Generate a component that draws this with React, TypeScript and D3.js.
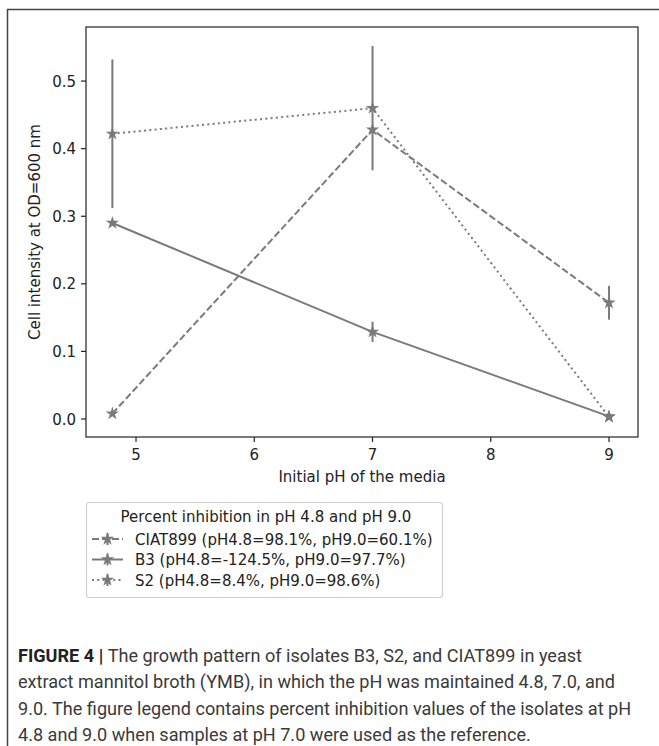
import * as d3 from "d3";

const phValues = [4.8, 7, 9];

const ciat899 = [0.008, 0.428, 0.172];
const ciat899Err = [0.002, 0.004, 0.025];
const b3 = [0.29, 0.129, 0.004];
const b3Err = [0.003, 0.015, 0.003];
const s2 = [0.422, 0.46, 0.003];
const s2Err = [0.11, 0.092, 0.002];

const xTicks = [5, 6, 7, 8, 9];
const yTicks = [0.0, 0.1, 0.2, 0.3, 0.4, 0.5];

const legendTitle = "Percent inhibition in pH 4.8 and pH 9.0";
const seriesLabels = [
  "CIAT899 (pH4.8=98.1%, pH9.0=60.1%)",
  "B3 (pH4.8=-124.5%, pH9.0=97.7%)",
  "S2 (pH4.8=8.4%, pH9.0=98.6%)",
];

const captionLines = [
  "The growth pattern of isolates B3, S2, and CIAT899 in yeast",
  "extract mannitol broth (YMB), in which the pH was maintained 4.8, 7.0, and",
  "9.0. The figure legend contains percent inhibition values of the isolates at pH",
  "4.8 and 9.0 when samples at pH 7.0 were used as the reference.",
];

const grey = "#7a7a7a";
const font = "'DejaVu Sans', sans-serif";
const fs = 15;

// plot box
const left = 86, right = 638, top = 27, bottom = 437;

const x = d3.scaleLinear([4.577, 9.245], [left, right]);
const y = d3.scaleLinear([-0.0266, 0.58], [bottom, top]);

const star = d3.symbol(d3.symbolStar, 55);

const series = [
  { vals: ciat899, errs: ciat899Err, dash: "7,3" },
  { vals: b3, errs: b3Err, dash: "none" },
  { vals: s2, errs: s2Err, dash: "2,3.3" },
];

export default function App() {
  const line = d3.line<number>((d, i) => x(phValues[i]), (d) => y(d));
  return (
    <svg width={659} height={746} style={{ position: "absolute", left: 0, top: 0, background: "#fff" }}>
      {/* outer frame */}
      <path d="M7.5,746 V9.5 H659" fill="none" stroke="#444" strokeWidth={1.5} />

      {series.map((s, k) => (
        <g key={k}>
          <path d={line(s.vals) || ""} fill="none" stroke={grey} strokeWidth={2} strokeDasharray={s.dash} />
          {s.vals.map((v, i) => (
            <line key={"e" + i} x1={x(phValues[i])} x2={x(phValues[i])} y1={y(v - s.errs[i])} y2={y(v + s.errs[i])}
              stroke={grey} strokeWidth={2} />
          ))}
          {s.vals.map((v, i) => (
            <path key={"m" + i} d={star() || ""} transform={`translate(${x(phValues[i])},${y(v)})`} fill={grey} />
          ))}
        </g>
      ))}

      {/* axes */}
      <rect x={left} y={top} width={right - left} height={bottom - top} fill="none" stroke="#222" strokeWidth={1.2} />
      {xTicks.map((t) => (
        <g key={t}>
          <line x1={x(t)} x2={x(t)} y1={bottom} y2={bottom + 5} stroke="#222" strokeWidth={1.2} />
          <text x={x(t)} y={460} textAnchor="middle" fontFamily={font} fontSize={fs} fill="#222">{t}</text>
        </g>
      ))}
      {yTicks.map((t) => (
        <g key={t}>
          <line x1={left - 5} x2={left} y1={y(t)} y2={y(t)} stroke="#222" strokeWidth={1.2} />
          <text x={76} y={y(t) + 5.5} textAnchor="end" fontFamily={font} fontSize={fs} fill="#222">{t.toFixed(1)}</text>
        </g>
      ))}
      <text x={(left + right) / 2} y={482} textAnchor="middle" fontFamily={font} fontSize={fs} fill="#222">
        Initial pH of the media
      </text>
      <text transform={`translate(40,${(top + bottom) / 2}) rotate(-90)`} textAnchor="middle" fontFamily={font}
        fontSize={fs} fill="#222">
        Cell intensity at OD=600 nm
      </text>

      {/* legend */}
      <rect x={86.5} y={502.5} width={356} height={95} rx={3} fill="#fff" stroke="#d0d0d0" strokeWidth={1.2} />
      <text x={266} y={522} textAnchor="middle" fontFamily={font} fontSize={fs} fill="#222">{legendTitle}</text>
      {series.map((s, k) => {
        const cy = 539 + k * 20.5;
        return (
          <g key={k}>
            <line x1={92} x2={123} y1={cy} y2={cy} stroke={grey} strokeWidth={2} strokeDasharray={s.dash} />
            <line x1={107.5} x2={107.5} y1={cy - 6} y2={cy + 6} stroke={grey} strokeWidth={2} />
            <path d={star() || ""} transform={`translate(107.5,${cy})`} fill={grey} />
            <text x={135} y={cy + 5.5} fontFamily={font} fontSize={fs} fill="#222">{seriesLabels[k]}</text>
          </g>
        );
      })}

      {/* caption */}
      {captionLines.map((c, i) => (
        <text key={i} x={18} y={662 + i * 26.3} fontFamily="Roboto, sans-serif" fontSize={18.1} fill="#3a3a3a">
          {i === 0 && <tspan fontWeight="bold" fill="#222">FIGURE 4 | </tspan>}
          {c}
        </text>
      ))}
    </svg>
  );
}
